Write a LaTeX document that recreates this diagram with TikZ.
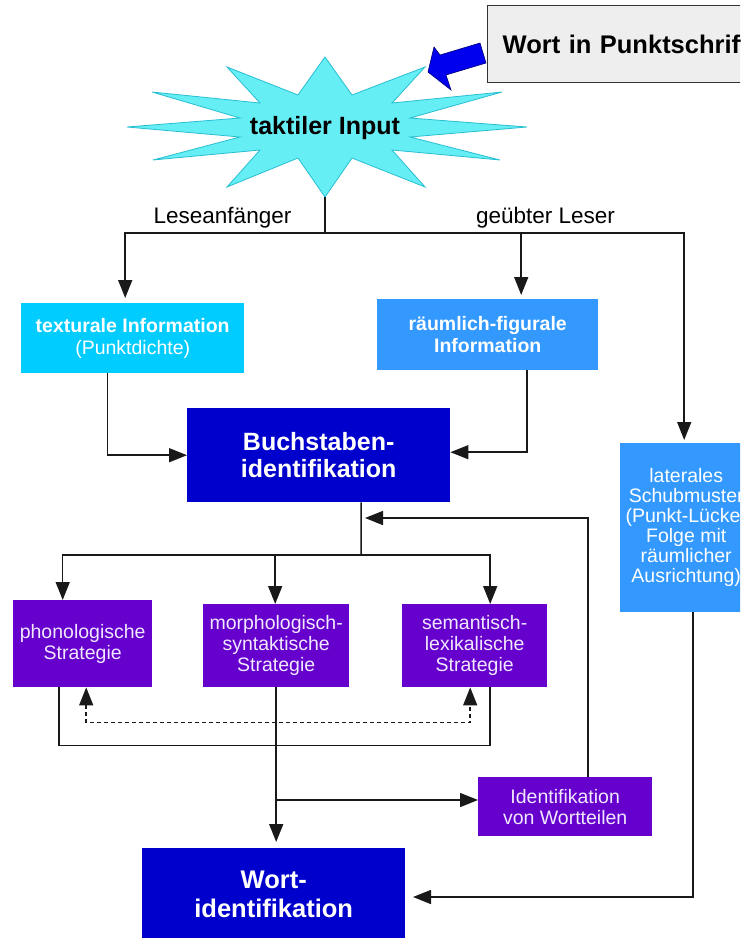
\documentclass[tikz,border=0pt]{standalone}
\usepackage{fontspec}
\setmainfont{Liberation Sans}
\usetikzlibrary{arrows.meta}

\definecolor{boxcyan}{RGB}{0,204,255}
\definecolor{boxsky}{RGB}{51,153,255}
\definecolor{boxnavy}{RGB}{0,0,204}
\definecolor{boxviolet}{RGB}{102,0,204}
\definecolor{starfill}{RGB}{102,238,245}
\definecolor{staredge}{RGB}{40,190,210}
\definecolor{arrowblue}{RGB}{0,0,238}
\definecolor{arrowedge}{RGB}{0,0,120}
\definecolor{panelgray}{RGB}{238,238,238}
\definecolor{violettext}{RGB}{240,232,255}

\begin{document}
\begin{tikzpicture}[x=1pt,y=-1pt,
  box/.style={anchor=north west, inner sep=0pt, align=center, text=white},
  smalltext/.style={font=\fontsize{19.5}{22}\selectfont},
  bigtext/.style={font=\fontsize{25}{27.5}\selectfont\bfseries},
  strat/.style={box, fill=boxviolet, text=violettext, font=\fontsize{19.5}{21}\selectfont},
  conn/.style={line width=1.5pt, black!90},
  tip/.tip={Triangle[length=18pt,width=14pt]},
  arr/.style={conn, -tip},
  dotarr/.style={conn, dash pattern=on 4pt off 3pt, tip-tip},
  label/.style={anchor=base, font=\fontsize{22.5}{24}\selectfont}
]
\path[use as bounding box] (0,0) rectangle (740,938);
\clip (0,0) rectangle (740,938);

% input panel and its pointer
\node[anchor=north west, draw=black!80, line width=1.3pt, fill=panelgray,
      minimum height=77pt, text width=250pt, inner xsep=15pt, inner ysep=0pt,
      align=left, font=\fontsize{25.5}{28}\selectfont\bfseries]
  (punkt) at (487,5) {Wort in Punktschrift};
\fill[arrowblue, draw=arrowedge, line width=0.6pt]
  (480,43) -- (486,63) -- (446,75) -- (451,90) -- (428,72)
  -- (434,47) -- (440,55) -- cycle;

% tactile input star
\draw[fill=starfill, draw=staredge, line width=0.8pt]
  (325,57) -- (352,95) -- (425,67) -- (392,103) -- (502,92) -- (410,118)
  -- (527,127) -- (410,137) -- (500,160) -- (392,150) -- (425,187)
  -- (352,158) -- (325,197) -- (298,158) -- (227,187) -- (260,150)
  -- (153,160) -- (240,137) -- (127,127) -- (240,118) -- (152,92)
  -- (260,103) -- (227,67) -- (298,95) -- cycle;
\node[font=\fontsize{25}{28}\selectfont\bfseries] (star) at (325,128) {taktiler Input};
\coordinate (starbot) at (325,197);
\coordinate (split) at (325,233);

\node[label] (lese) at (222.5,223) {Leseanfänger};
\node[label] (geuebt) at (545.5,223) {geübter Leser};

% information boxes
\node[box, fill=boxcyan, minimum width=223pt, minimum height=70pt, smalltext]
  (tex) at (21,303) {\textbf{texturale Information}\\(Punktdichte)};
\node[box, fill=boxsky, minimum width=221pt, minimum height=71pt, smalltext]
  (raum) at (377,299) {\textbf{räumlich-figurale}\\\textbf{Information}};
\node[box, fill=boxsky, minimum width=132pt, minimum height=169pt,
      font=\fontsize{19.5}{20}\selectfont]
  (lat) at (620,443) {laterales\\Schubmuster\\(Punkt-Lücke-\\Folge mit\\räumlicher\\Ausrichtung)};
\node[box, fill=boxnavy, minimum width=263pt, minimum height=94pt, bigtext]
  (buch) at (187,408) {Buchstaben-\\identifikation};

% strategies
\node[strat, minimum width=139pt, minimum height=87pt]
  (phon) at (13,600) {phonologische\\Strategie};
\node[strat, minimum width=146pt, minimum height=83pt]
  (morph) at (203,604) {morphologisch-\\syntaktische\\Strategie};
\node[strat, minimum width=145pt, minimum height=83pt]
  (sem) at (402,604) {semantisch-\\lexikalische\\Strategie};
\node[strat, minimum width=174pt, minimum height=59pt]
  (ident) at (478,777) {Identifikation\\von Wortteilen};

\node[box, fill=boxnavy, minimum width=263pt, minimum height=92pt,
      font=\fontsize{25.5}{29}\selectfont\bfseries]
  (wort) at (142,848) {Wort-\\identifikation};

% branching below the star
\draw[conn] (starbot) -- (split);
\draw[arr, shorten >=5pt] (split) -| ([xshift=-7.5pt]tex.north);
\draw[arr, shorten >=4pt] (split) -| ([xshift=33.5pt]raum.north);
\draw[arr, shorten >=3pt] (split) -| ([xshift=-2pt]lat.north);

% into letter identification
\draw[arr] ([xshift=-25pt]tex.south) |- (buch.west);
\draw[arr] ([xshift=39.5pt]raum.south) |- ([yshift=3pt]buch.east);

% from letter identification to the strategies
\coordinate (bsplit) at (361,555);
\draw[conn] ([xshift=42.5pt]buch.south) -- (bsplit);
\draw[arr] (bsplit) -| ([xshift=-20pt]phon.north);
\draw[arr] (bsplit) -| ([xshift=-1pt]morph.north);
\draw[arr] (bsplit) -| ([xshift=15.5pt]sem.north);

% links between the strategies
\draw[dotarr] ([xshift=3.5pt]phon.south) -- ++(0,35) -| ([xshift=-4.5pt]sem.south);
\draw[conn] ([xshift=-23.5pt]phon.south) -- ++(0,58) -| ([xshift=15.5pt]sem.south);

% towards word identification
\draw[arr, shorten >=6pt] (morph.south) -- (morph.south |- wort.north);
\coordinate (msplit) at (276,800);
\draw[arr] (msplit) -- (msplit -| ident.west);
\coordinate (fbtip) at (365,518);
\draw[arr] ([xshift=23pt]ident.north) |- (fbtip);
\coordinate (wtip) at (413,897);
\draw[arr] ([xshift=7pt]lat.south) |- (wtip);
\end{tikzpicture}
\end{document}
